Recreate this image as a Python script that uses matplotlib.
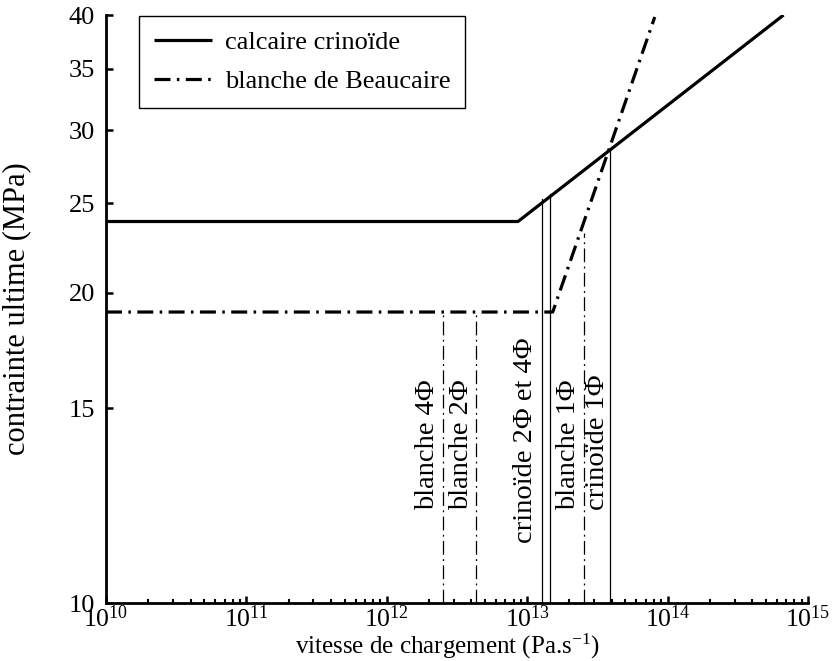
import matplotlib
matplotlib.use("Agg")
import matplotlib.pyplot as plt
from matplotlib.ticker import LogLocator, NullFormatter, FixedLocator, FixedFormatter

plt.rcParams['font.family'] = ['Liberation Serif', 'DejaVu Serif']
plt.rcParams['mathtext.fontset'] = 'custom'
plt.rcParams['mathtext.rm'] = 'Liberation Serif'
plt.rcParams['mathtext.it'] = 'Liberation Serif:italic'
plt.rcParams['mathtext.bf'] = 'Liberation Serif:bold'

# ---- data ----
crinoide_x = [1e10, 8.6e12, 6.7e14]
crinoide_y = [23.9, 23.9, 40.0]
blanche_x = [1e10, 1.52e13, 8.1e13]
blanche_y = [19.07, 19.07, 39.8]

# vertical marker lines: (x, top y) ; solid = crinoide, dash-dot = blanche
blanche_vx = [2.5e12, 4.35e12, 2.55e13]
blanche_vtop = [19.07, 19.07, 23.2]
crinoide_vx = [1.27e13, 1.46e13, 3.91e13]
crinoide_vtop = [25.3, 25.6, 28.6]

label_texts = ["blanche 4\u03a6", "blanche 2\u03a6", "crino\u00efde 2\u03a6 et 4\u03a6",
               "blanche 1\u03a6", "crino\u00efde 1\u03a6"]
label_x = [1.94e12, 3.42e12, 9.8e12, 1.98e13, 3.16e13]
label_y = [11.65, 11.65, 10.72, 11.65, 11.65]

y_bottom = 9.23
y_ticks = [y_bottom, 15, 20, 25, 30, 35, 40]
y_ticklabels = ["10", "15", "20", "25", "30", "35", "40"]
x_ticks = [1e10, 1e11, 1e12, 1e13, 1e14, 1e15]
x_ticklabels = [r"$10^{10}$", r"$10^{11}$", r"$10^{12}$", r"$10^{13}$", r"$10^{14}$", r"$10^{15}$"]

legend_labels = ["calcaire crino\u00efde", "blanche de Beaucaire"]

# ---- figure ----
fig = plt.figure(figsize=(8.33, 6.61), dpi=100)
ax = fig.add_axes([106/833, 1 - 603/661, 702/833, 588/661])
ax.set_xscale('log')
ax.set_yscale('log')
ax.set_xlim(1e10, 1e15)
ax.set_ylim(y_bottom, 40)

main_dash = (0, (5.0, 2.0, 0.8, 2.0))
thin_dash = (0, (11, 3.5, 1.5, 3.5))

l1, = ax.plot(crinoide_x, crinoide_y, color='black', lw=2.3, solid_capstyle='butt')
l2, = ax.plot(blanche_x, blanche_y, color='black', lw=2.3, linestyle=main_dash)

for x, top in zip(crinoide_vx, crinoide_vtop):
    ax.plot([x, x], [y_bottom, top], color='black', lw=0.9)
for x, top in zip(blanche_vx, blanche_vtop):
    ax.plot([x, x], [y_bottom, top], color='black', lw=0.9, linestyle=thin_dash)

for t, x, y in zip(label_texts, label_x, label_y):
    ax.text(x, y, t, rotation=90, ha='center', va='bottom', fontsize=20.5)

for s in ['top', 'right']:
    ax.spines[s].set_visible(False)
for s in ['left', 'bottom']:
    ax.spines[s].set_linewidth(2.0)

ax.xaxis.set_major_locator(FixedLocator(x_ticks))
ax.xaxis.set_major_formatter(FixedFormatter(x_ticklabels))
ax.xaxis.set_minor_locator(LogLocator(base=10, subs=range(2, 10), numticks=20))
ax.xaxis.set_minor_formatter(NullFormatter())
ax.yaxis.set_major_locator(FixedLocator(y_ticks))
ax.yaxis.set_major_formatter(FixedFormatter(y_ticklabels))
ax.yaxis.set_minor_locator(FixedLocator([]))

ax.tick_params(axis='both', which='major', direction='in', length=5, width=1.8, labelsize=19)
ax.tick_params(axis='x', which='minor', direction='in', length=3, width=1.5)
ax.tick_params(axis='x', which='major', pad=2, labelsize=18.5)
ax.tick_params(axis='y', which='major', pad=8)

ax.set_xlabel(r"vitesse de chargement (Pa.s$^{\mathregular{-1}}$)", fontsize=18, va='bottom')
ax.xaxis.set_label_coords((447 - 106) / 702, (603 - 661) / 588)
ax.set_ylabel("contrainte ultime (MPa)", fontsize=22, va='center')
ax.yaxis.set_label_coords((17 - 106) / 702, (603 - 309) / 588)

leg = ax.legend([l1, l2], legend_labels, loc='upper left',
                bbox_to_anchor=((139 - 106) / 702, (603 - 16) / 588),
                fontsize=19, frameon=True, fancybox=False, edgecolor='black',
                framealpha=1, handlelength=2.2, handletextpad=0.5,
                borderpad=0.55, labelspacing=0.6, borderaxespad=0)
leg.get_frame().set_linewidth(1.0)

fig.savefig("out.png", dpi=100)
